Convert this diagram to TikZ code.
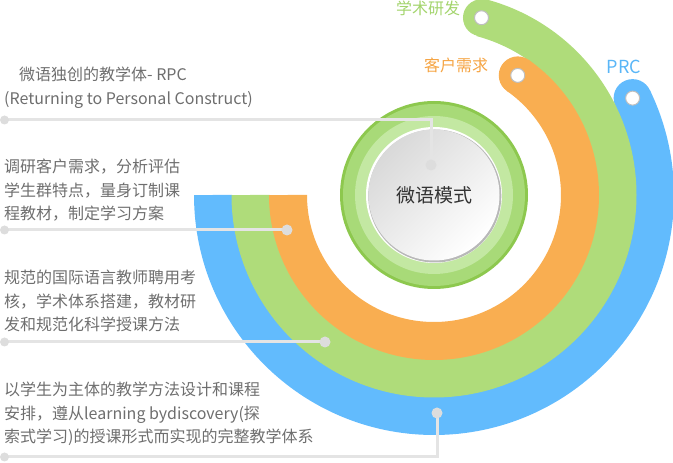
\documentclass[tikz,border=0pt]{standalone}
\usepackage{fontspec}
\setmainfont{Noto Sans CJK SC}
\usepackage{tikz}
\usetikzlibrary{calc}
\definecolor{bandblue}{HTML}{62BBFD}
\definecolor{bandgreen}{HTML}{AFDC7A}
\definecolor{bandorange}{HTML}{F9AE51}
\definecolor{ringdark}{HTML}{8DC84E}
\definecolor{ringmid}{HTML}{A8DA78}
\definecolor{ringlight}{HTML}{C3E8A2}
\definecolor{linegray}{HTML}{E4E4E4}
\definecolor{dotgray}{HTML}{DDDDDD}
\definecolor{textgray}{HTML}{6E6E6E}
\definecolor{labelgreen}{HTML}{A3D46C}
\definecolor{labelorange}{HTML}{F5A443}
\definecolor{labelblue}{HTML}{5AB6F7}
\tikzstyle{band} = [line width=38pt]
\tikzstyle{leader} = [line width=3pt, draw=linegray]
\tikzstyle{desc} = [anchor=north west, inner sep=0pt, align=left, text=textgray, font=\fontsize{16}{23.5}\selectfont]
\tikzstyle{title} = [inner sep=0pt, font=\fontsize{16}{16}\selectfont]
\tikzstyle{capdot} = [circle, fill=white, draw=black!25, line width=1pt, minimum size=14pt, inner sep=0pt]

\begin{document}
\begin{tikzpicture}[x=1pt, y=1pt]
    \useasboundingbox (0,0) rectangle (673,463);

    \coordinate (center) at (434,268);

    % coloured bands
    \draw [band, draw=bandblue] (center) ++(180:221) arc[start angle=180, end angle=386, radius=221];
    \fill [bandblue] ($(center)+(386:221)$) circle (19);

    \draw [band, draw=bandgreen] (center) ++(180:183.5) arc[start angle=180, end angle=435, radius=183.5];
    \fill [bandgreen] ($(center)+(435:183.5)$) circle (18.5);

    \draw [band, draw=bandorange] (center) ++(180:146) arc[start angle=180, end angle=415, radius=146];
    \fill [bandorange] ($(center)+(415:146)$) circle (19);

    \node (prc_end) [capdot] at ($(center)+(386:221)$) {};
    \node (research_end) [capdot] at ($(center)+(435:183.5)$) {};
    \node (demand_end) [capdot] at ($(center)+(415:146)$) {};

    % centre disc
    \fill [ringdark] (center) circle (94);
    \fill [ringmid] (center) circle (91);
    \fill [ringlight] (center) circle (79);
    \fill [white] (center) circle (68);
    \fill [black!28] ($(center)+(0.8,-1)$) circle (66.5);
    \shade [top color=black!15, bottom color=white, shading angle=45] (center) circle (65.5);
    \node (model) at (center) [font=\fontsize{19}{19}\selectfont, text=black!80] {微语模式};

    % band labels
    \node (label_research) [title, text=labelgreen] at (428,455) {学术研发};
    \node (label_demand) [title, text=labelorange] at (456,398) {客户需求};
    \node (label_prc) [title, text=labelblue, font=\fontsize{18}{18}\selectfont] at (624,396) {PRC};

    % descriptions
    \node (desc_rpc) [desc] at (4,396) {\hspace*{15pt}微语独创的教学体- RPC\\(Returning to Personal Construct)};
    \node (desc_demand) [desc] at (4,304) {调研客户需求，分析评估\\学生群特点，量身订制课\\程教材，制定学习方案};
    \node (desc_research) [desc] at (4,193) {规范的国际语言教师聘用考\\核，学术体系搭建，教材研\\发和规范化科学授课方法};
    \node (desc_prc) [desc] at (4,81) {以学生为主体的教学方法设计和课程\\安排，遵从learning bydiscovery(探\\索式学习)的授课形式而实现的完整教学体系};

    % leader lines
    \coordinate (rpc_start) at (4.5,343);
    \coordinate (rpc_stop) at (431,298);
    \coordinate (demand_start) at (4.5,233);
    \coordinate (demand_stop) at (287,233);
    \coordinate (research_start) at (4.5,121);
    \coordinate (research_stop) at (325,121);
    \coordinate (prc_start) at (4.5,6);
    \coordinate (prc_stop) at (437,50);

    \draw [leader] (rpc_start) -| (rpc_stop);
    \draw [leader] (demand_start) -- (demand_stop);
    \draw [leader] (research_start) -- (research_stop);
    \draw [leader] (prc_start) -| (prc_stop);

    \foreach \p in {rpc_start, demand_start, research_start, prc_start}
        \fill [dotgray] (\p) circle (4.5);
    \foreach \p in {rpc_stop, demand_stop, research_stop, prc_stop}
        \fill [dotgray] (\p) circle (5.5);

\end{tikzpicture}
\end{document}
